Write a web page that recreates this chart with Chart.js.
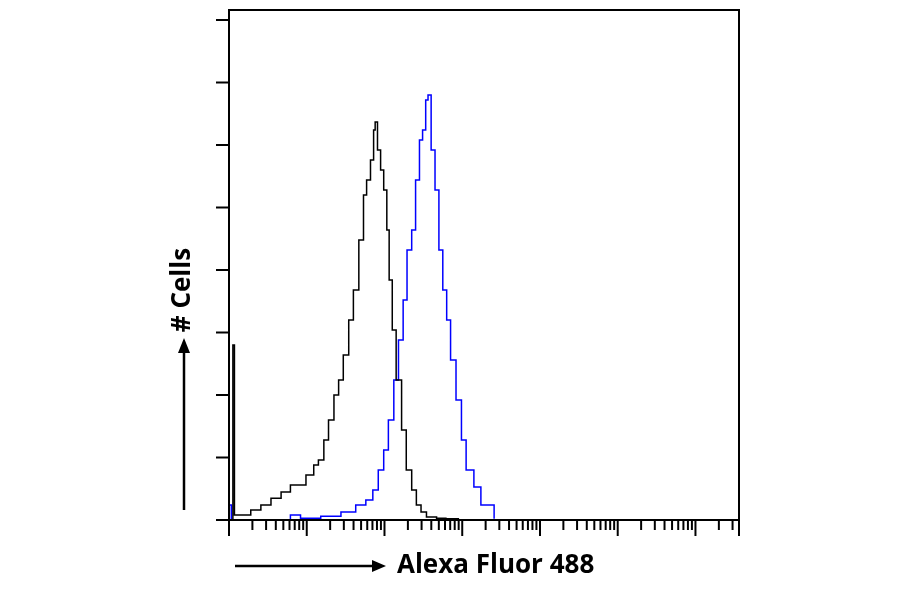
<!DOCTYPE html>
<html>
<head>
<style>html,body{margin:0;padding:0;background:#fff}#wrap{width:900px;height:594px}</style>
<script src="https://cdn.jsdelivr.net/npm/chart.js@4"></script>
</head>
<body>
<div id="wrap"><canvas id="plot"></canvas></div>
<script>
// x in decades (log10 of fluorescence), y in counts
const blackX = [0.04,0.05,0.07,0.15,0.28,0.41,0.54,0.67,0.79,0.99,1.09,1.15,1.22,1.28,1.35,1.41,1.47,1.54,1.6,1.67,1.73,1.77,1.82,1.86,1.88,1.91,1.95,1.99,2.03,2.06,2.1,2.15,2.22,2.28,2.35,2.41,2.47,2.54,2.67,2.79,2.95];
const blackY = [0,280,8,8,16,24,35,45,56,72,88,96,128,160,200,224,264,320,368,448,520,544,576,624,637,592,560,528,464,384,304,224,144,80,48,24,13,5,3,2,0];
const blueX = [0.01,0.03,0.79,0.92,1.18,1.44,1.63,1.76,1.85,1.92,1.99,2.05,2.12,2.18,2.24,2.29,2.35,2.4,2.45,2.49,2.53,2.56,2.6,2.65,2.7,2.75,2.8,2.85,2.92,2.99,3.05,3.15,3.24,3.41];
const blueY = [24,0,8,3,6,13,24,32,48,80,112,160,224,288,352,432,464,544,608,624,672,680,592,528,432,368,320,256,192,128,80,53,24,2];
const yTicks = [0,100,200,300,400,500,600,700,800];
const xMax = 6.56;

function pts(xs, ys) { return xs.map((x, i) => ({x: x, y: ys[i]})); }

const decor = {
    id: 'decor',
    afterDraw(chart) {
        const ctx = chart.ctx, a = chart.chartArea;
        const xs = chart.scales.x, ys = chart.scales.y;
        ctx.save();
        ctx.strokeStyle = '#000';
        ctx.lineWidth = 2;
        ctx.strokeRect(a.left, a.top, a.right - a.left, a.bottom - a.top);
        // y ticks
        for (const t of yTicks) {
            const py = ys.getPixelForValue(t);
            ctx.beginPath(); ctx.moveTo(a.left - 13, py); ctx.lineTo(a.left, py); ctx.stroke();
        }
        // log x ticks
        for (let d = 0; d < 7; d++) {
            for (let k = 1; k < 10; k++) {
                const v = d + Math.log10(k);
                if (v > xMax) continue;
                const px = xs.getPixelForValue(v);
                const len = k === 1 ? 16 : 10;
                ctx.beginPath(); ctx.moveTo(px, a.bottom); ctx.lineTo(px, a.bottom + len); ctx.stroke();
            }
        }
        ctx.beginPath(); ctx.moveTo(a.right, a.bottom); ctx.lineTo(a.right, a.bottom + 16); ctx.stroke();
        // axis titles with arrows
        ctx.fillStyle = '#000';
        ctx.font = 'bold 26px "Open Sans", sans-serif';
        ctx.textBaseline = 'middle';
        ctx.fillText('Alexa Fluor 488', 397, 566);
        ctx.lineWidth = 2.5;
        ctx.beginPath(); ctx.moveTo(235, 566); ctx.lineTo(376, 566); ctx.stroke();
        ctx.beginPath(); ctx.moveTo(386, 566); ctx.lineTo(372, 560); ctx.lineTo(372, 572); ctx.closePath(); ctx.fill();
        ctx.save();
        ctx.translate(183, 290);
        ctx.rotate(-Math.PI / 2);
        ctx.textAlign = 'center';
        ctx.fillText('# Cells', 0, 0);
        ctx.restore();
        ctx.beginPath(); ctx.moveTo(184, 510); ctx.lineTo(184, 350); ctx.stroke();
        ctx.beginPath(); ctx.moveTo(184, 338); ctx.lineTo(178, 353); ctx.lineTo(190, 353); ctx.closePath(); ctx.fill();
        ctx.restore();
    }
};

new Chart(document.getElementById('plot'), {
    type: 'line',
    data: {
        datasets: [
            {data: pts(blackX, blackY), borderColor: '#000', borderWidth: 1.5, stepped: true, pointRadius: 0},
            {data: pts(blueX, blueY), borderColor: '#0000ff', borderWidth: 1.5, stepped: true, pointRadius: 0}
        ]
    },
    options: {
        responsive: true,
        maintainAspectRatio: false,
        animation: false,
        layout: {padding: {left: 229, right: 161, top: 10, bottom: 74}},
        plugins: {legend: {display: false}, tooltip: {enabled: false}},
        scales: {
            x: {type: 'linear', min: 0, max: xMax, display: false},
            y: {type: 'linear', min: 0, max: 816, display: false}
        }
    },
    plugins: [decor]
});
</script>
</body>
</html>
